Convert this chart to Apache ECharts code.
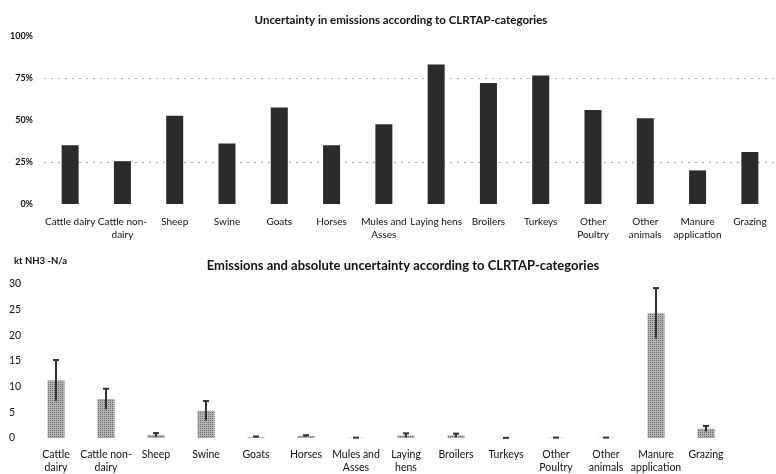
<!DOCTYPE html>
<html><head><meta charset="utf-8">
<script src="https://cdn.jsdelivr.net/npm/echarts@6/dist/echarts.min.js"></script>
<style>html,body{margin:0;padding:0;background:#fff}#c{width:776px;height:474px}</style>
</head><body><div id="c"></div>
<script>
// Categories (CLRTAP)
const topLabels = ['Cattle dairy','Cattle non-\ndairy','Sheep','Swine','Goats','Horses','Mules and\nAsses','Laying hens','Broilers','Turkeys','Other\nPoultry','Other\nanimals','Manure\napplication','Grazing'];
const bottomLabels = ['Cattle\ndairy','Cattle non-\ndairy','Sheep','Swine','Goats','Horses','Mules and\nAsses','Laying\nhens','Broilers','Turkeys','Other\nPoultry','Other\nanimals','Manure\napplication','Grazing'];
// Relative uncertainty (%)
const uncertaintyPct = [35, 25.5, 52.5, 36, 57.5, 35, 47.5, 83, 72, 76.5, 56, 51, 20, 31];
// Emissions (kt NH3-N/a)
const emissions = [11.2, 7.6, 0.6, 5.3, 0.2, 0.4, 0.05, 0.5, 0.5, 0.02, 0.05, 0.05, 24.3, 1.8];
// Absolute uncertainty (kt NH3-N/a)
const absUncertainty = [4.0, 2.0, 0.35, 1.9, 0.1, 0.15, 0.02, 0.4, 0.35, 0.01, 0.03, 0.03, 4.9, 0.55];
const topTicks = {min: 0, max: 100, interval: 25};
const bottomTicks = {min: 0, max: 30, interval: 5};

const FONT = 'Lato';
const chart = echarts.init(document.getElementById('c'), null, {renderer: 'canvas'});
const errData = emissions.map((v, i) => [i, v - absUncertainty[i], v + absUncertainty[i]]);
chart.setOption({
  backgroundColor: '#fff',
  animation: false,
  textStyle: {fontFamily: FONT},
  title: [
    {text: 'Uncertainty in emissions according to CLRTAP-categories', left: 396, top: 9, textAlign: 'center',
     textStyle: {fontFamily: FONT, fontSize: 11.5, fontWeight: 'bold', color: '#111'}},
    {text: 'Emissions and absolute uncertainty according to CLRTAP-categories', left: 398, top: 254, textAlign: 'center',
     textStyle: {fontFamily: FONT, fontSize: 13, fontWeight: 'bold', color: '#111'}},
    {text: 'kt NH3 -N/a', left: 9, top: 251,
     textStyle: {fontFamily: FONT, fontSize: 9.5, fontWeight: 'bold', color: '#111'}}
  ],
  grid: [
    {left: 44, top: 36, width: 738, height: 168},
    {left: 31, top: 284, width: 700, height: 157}
  ],
  xAxis: [
    {type: 'category', gridIndex: 0, data: topLabels, axisLine: {show: false}, axisTick: {show: false},
     axisLabel: {interval: 0, margin: 11, fontSize: 10, lineHeight: 13, color: '#111', fontFamily: FONT}},
    {type: 'category', gridIndex: 1, data: bottomLabels, axisLine: {show: false}, axisTick: {show: false},
     axisLabel: {interval: 0, margin: 10, fontSize: 10.5, lineHeight: 13, color: '#111', fontFamily: FONT}}
  ],
  yAxis: [
    {type: 'value', gridIndex: 0, min: topTicks.min, max: topTicks.max, interval: topTicks.interval,
     axisLine: {show: false}, axisTick: {show: false},
     axisLabel: {formatter: '{value}%', margin: 11, fontSize: 9, fontWeight: 'bold', color: '#111', fontFamily: FONT},
     splitLine: {show: true, lineStyle: {type: [2, 5], width: 1, color: ['rgba(0,0,0,0)', '#aaa', 'rgba(0,0,0,0)', '#bbb', 'rgba(0,0,0,0)']}}},
    {type: 'value', gridIndex: 1, min: bottomTicks.min, max: bottomTicks.max, interval: bottomTicks.interval,
     axisLine: {show: false}, axisTick: {show: false},
     axisLabel: {align: 'left', margin: 22, fontSize: 10.5, color: '#111', fontFamily: FONT},
     splitLine: {show: false}}
  ],
  series: [
    {type: 'bar', xAxisIndex: 0, yAxisIndex: 0, data: uncertaintyPct, barWidth: 17,
     itemStyle: {color: '#2b2b2b'}},
    {type: 'bar', xAxisIndex: 1, yAxisIndex: 1, data: emissions, barWidth: 17,
     itemStyle: {color: '#b3b3b3', decal: {symbol: 'rect', symbolSize: 1, dashArrayX: [1, 1], dashArrayY: [1, 1], color: 'rgba(60,60,60,0.6)'}}},
    {type: 'custom', xAxisIndex: 1, yAxisIndex: 1, data: errData, z: 5,
     renderItem: function (params, api) {
       const x = api.value(0);
       const lo = api.coord([x, api.value(1)]);
       const hi = api.coord([x, api.value(2)]);
       return {type: 'group', children: [
         {type: 'line', shape: {x1: hi[0], y1: hi[1], x2: lo[0], y2: lo[1]}, style: {stroke: '#333', lineWidth: 2}},
         {type: 'line', shape: {x1: hi[0] - 3, y1: hi[1], x2: hi[0] + 3, y2: hi[1]}, style: {stroke: '#333', lineWidth: 2}}
       ]};
     }}
  ]
});
</script>
</body></html>
